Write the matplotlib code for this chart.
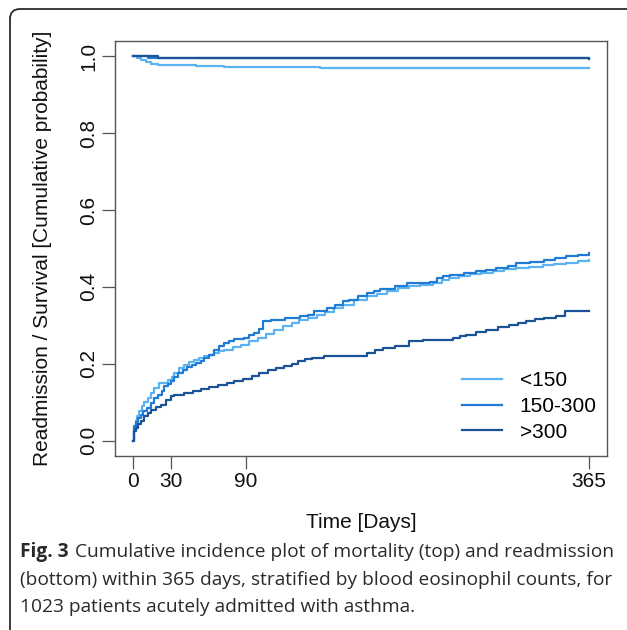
import matplotlib
matplotlib.use("Agg")
import matplotlib.pyplot as plt
from matplotlib.patches import FancyBboxPatch

# Group labels and colours
groups = ["<150", "150-300", ">300"]
colors = ["#5cb3f2", "#1f7bd3", "#1b5396"]

# Survival (top curves)
surv_light_t = [0, 3, 6, 10, 14, 20, 25, 50, 73, 150, 365]
surv_light_v = [1.0, 0.995, 0.99, 0.985, 0.981, 0.978, 0.977, 0.974, 0.972, 0.970, 0.970]
surv_mid_t = [0, 12, 365]
surv_mid_v = [1.0, 0.997, 0.997]
surv_dark_t = [0, 20, 343, 365]
surv_dark_v = [1.0, 0.997, 0.997, 0.994]

# Readmission (bottom curves)
read_light_t = [0, 1, 2, 3, 5, 7, 9, 12, 14, 17, 21, 28, 31, 33, 37, 41, 45, 49, 53, 57,
                61, 65, 69, 73, 80, 86, 93, 100, 106, 113, 120, 127, 133, 140, 147, 154, 161, 168, 177, 187,
                195, 203, 212, 221, 230, 240, 247, 253, 261, 270, 279, 288, 297, 307, 317, 328, 337, 347, 356, 365]
read_light_v = [0, .03, .05, .063, .078, .089, .1, .111, .125, .137, .15, .157, .165, .175, .188, .198, .204, .209, .214, .219,
                .224, .228, .232, .236, .243, .25, .258, .267, .278, .289, .298, .306, .313, .32, .328, .336, .345, .353, .365, .376,
                .382, .389, .396, .402, .406, .411, .418, .424, .428, .433, .437, .441, .446, .45, .453, .456, .46, .463, .467, .47]

read_mid_t = [0, 1, 2, 4, 6, 8, 11, 14, 17, 20, 23, 25, 28, 30, 33, 36, 40, 43, 47, 50,
              54, 57, 61, 65, 69, 73, 77, 81, 89, 93, 97, 101, 104, 110, 116, 122, 127, 134, 140, 145,
              155, 162, 168, 173, 180, 187, 193, 198, 210, 219, 230, 238, 243, 248, 254, 265, 275, 283, 291, 300,
              307, 318, 329, 338, 347, 356, 365]
read_mid_v = [0, .037, .048, .059, .068, .076, .085, .098, .11, .12, .13, .141, .148, .154, .165, .176, .184, .192, .197, .202,
              .208, .215, .222, .235, .245, .254, .26, .265, .268, .274, .28, .29, .311, .313, .315, .318, .32, .325, .328, .337,
              .345, .354, .363, .367, .376, .385, .39, .395, .402, .409, .41, .412, .424, .428, .432, .436, .441, .445, .45, .455,
              .463, .466, .47, .474, .48, .484, .487]

read_dark_t = [0, 1, 2, 4, 6, 9, 12, 14, 18, 22, 26, 30, 33, 41, 48, 54, 61, 68, 75, 81,
               88, 95, 101, 108, 114, 121, 127, 132, 138, 143, 153, 165, 176, 187, 194, 200, 210, 216, 221, 232,
               243, 256, 262, 267, 275, 283, 292, 301, 308, 315, 322, 329, 339, 346, 365]
read_dark_v = [0, .024, .033, .042, .052, .063, .072, .081, .088, .094, .105, .115, .12, .124, .13, .135, .14, .146, .15, .154,
               .16, .167, .175, .183, .188, .193, .2, .208, .212, .215, .219, .219, .221, .228, .235, .241, .245, .245, .259, .261,
               .263, .267, .272, .276, .282, .289, .295, .302, .307, .311, .316, .32, .325, .337, .337]

x_ticks = [0, 30, 90, 365]
y_ticks = [0.0, 0.2, 0.4, 0.6, 0.8, 1.0]

caption_bold = "Fig. 3"
caption_lines = [
    "Cumulative incidence plot of mortality (top) and readmission",
    "(bottom) within 365 days, stratified by blood eosinophil counts, for",
    "1023 patients acutely admitted with asthma.",
]

plt.rcParams["font.family"] = ["Liberation Sans", "DejaVu Sans"]

W, H = 627, 630
fig = plt.figure(figsize=(W / 100, H / 100), dpi=100)

# rounded frame around figure + caption
frame = FancyBboxPatch((10 / W, -0.05), 1.05, 1.05 - 9 / H,
                       boxstyle="round,pad=0,rounding_size=0.016",
                       transform=fig.transFigure, fill=False,
                       edgecolor="#2b2b2b", linewidth=1.3)
fig.patches.append(frame)

ax = fig.add_axes([115 / W, 1 - 456 / H, 492 / W, 415 / H])

surv = [(surv_light_t, surv_light_v), (surv_mid_t, surv_mid_v), (surv_dark_t, surv_dark_v)]
read = [(read_light_t, read_light_v), (read_mid_t, read_mid_v), (read_dark_t, read_dark_v)]

for (t, v), c in zip(surv, colors):
    ax.step(t, v, where="post", color=c, lw=1.6)
for (t, v), c, g in zip(read, colors, groups):
    ax.step(t, v, where="post", color=c, lw=1.6, label=g)

ax.set_xlim(-14.6, 379.6)
ax.set_ylim(-0.04, 1.04)
ax.set_xticks(x_ticks)
ax.set_xticklabels([str(x) for x in x_ticks])
ax.set_yticks(y_ticks)
ax.set_yticklabels(["%.1f" % y for y in y_ticks], rotation=90, va="center")

for s in ax.spines.values():
    s.set_color("#555555")
    s.set_linewidth(1.0)
ax.tick_params(length=9.5, width=0.9, color="#555555", labelsize=15, labelcolor="#111111")
ax.tick_params(axis="x", pad=2)
ax.tick_params(axis="y", pad=2.5)

ax.set_xlabel("Time [Days]", fontsize=15, color="#111111", va="center")
ax.xaxis.set_label_coords(0.5, (456 - 522) / 415)
ax.set_ylabel("Readmission / Survival [Cumulative probability]", fontsize=15,
              color="#111111", va="center")
ax.yaxis.set_label_coords((43 - 115) / 492, 0.5)

ax.legend(loc="upper left", bbox_to_anchor=(462 / W, 1 - 371 / H),
          bbox_transform=fig.transFigure, frameon=False, fontsize=15,
          handlelength=1.92, handletextpad=0.85, labelspacing=0.33,
          borderpad=0, borderaxespad=0)

# caption
cap_font = ["Open Sans", "DejaVu Sans"]
cap_size = 13.8
cap_color = "#2a2a2a"
fig.canvas.draw()
renderer = fig.canvas.get_renderer()
bold = fig.text(20 / W, 1 - 552 / H, caption_bold, fontsize=cap_size, family=cap_font,
                weight="bold", color=cap_color, va="center")
bb = bold.get_window_extent(renderer)
fig.text((bb.x1 + 6) / W, 1 - 552 / H, caption_lines[0], fontsize=cap_size, family=cap_font,
         color=cap_color, va="center")
fig.text(20 / W, 1 - 580 / H, caption_lines[1], fontsize=cap_size, family=cap_font,
         color=cap_color, va="center")
fig.text(20 / W, 1 - 607 / H, caption_lines[2], fontsize=cap_size, family=cap_font,
         color=cap_color, va="center")

fig.savefig("out.png", dpi=100)
